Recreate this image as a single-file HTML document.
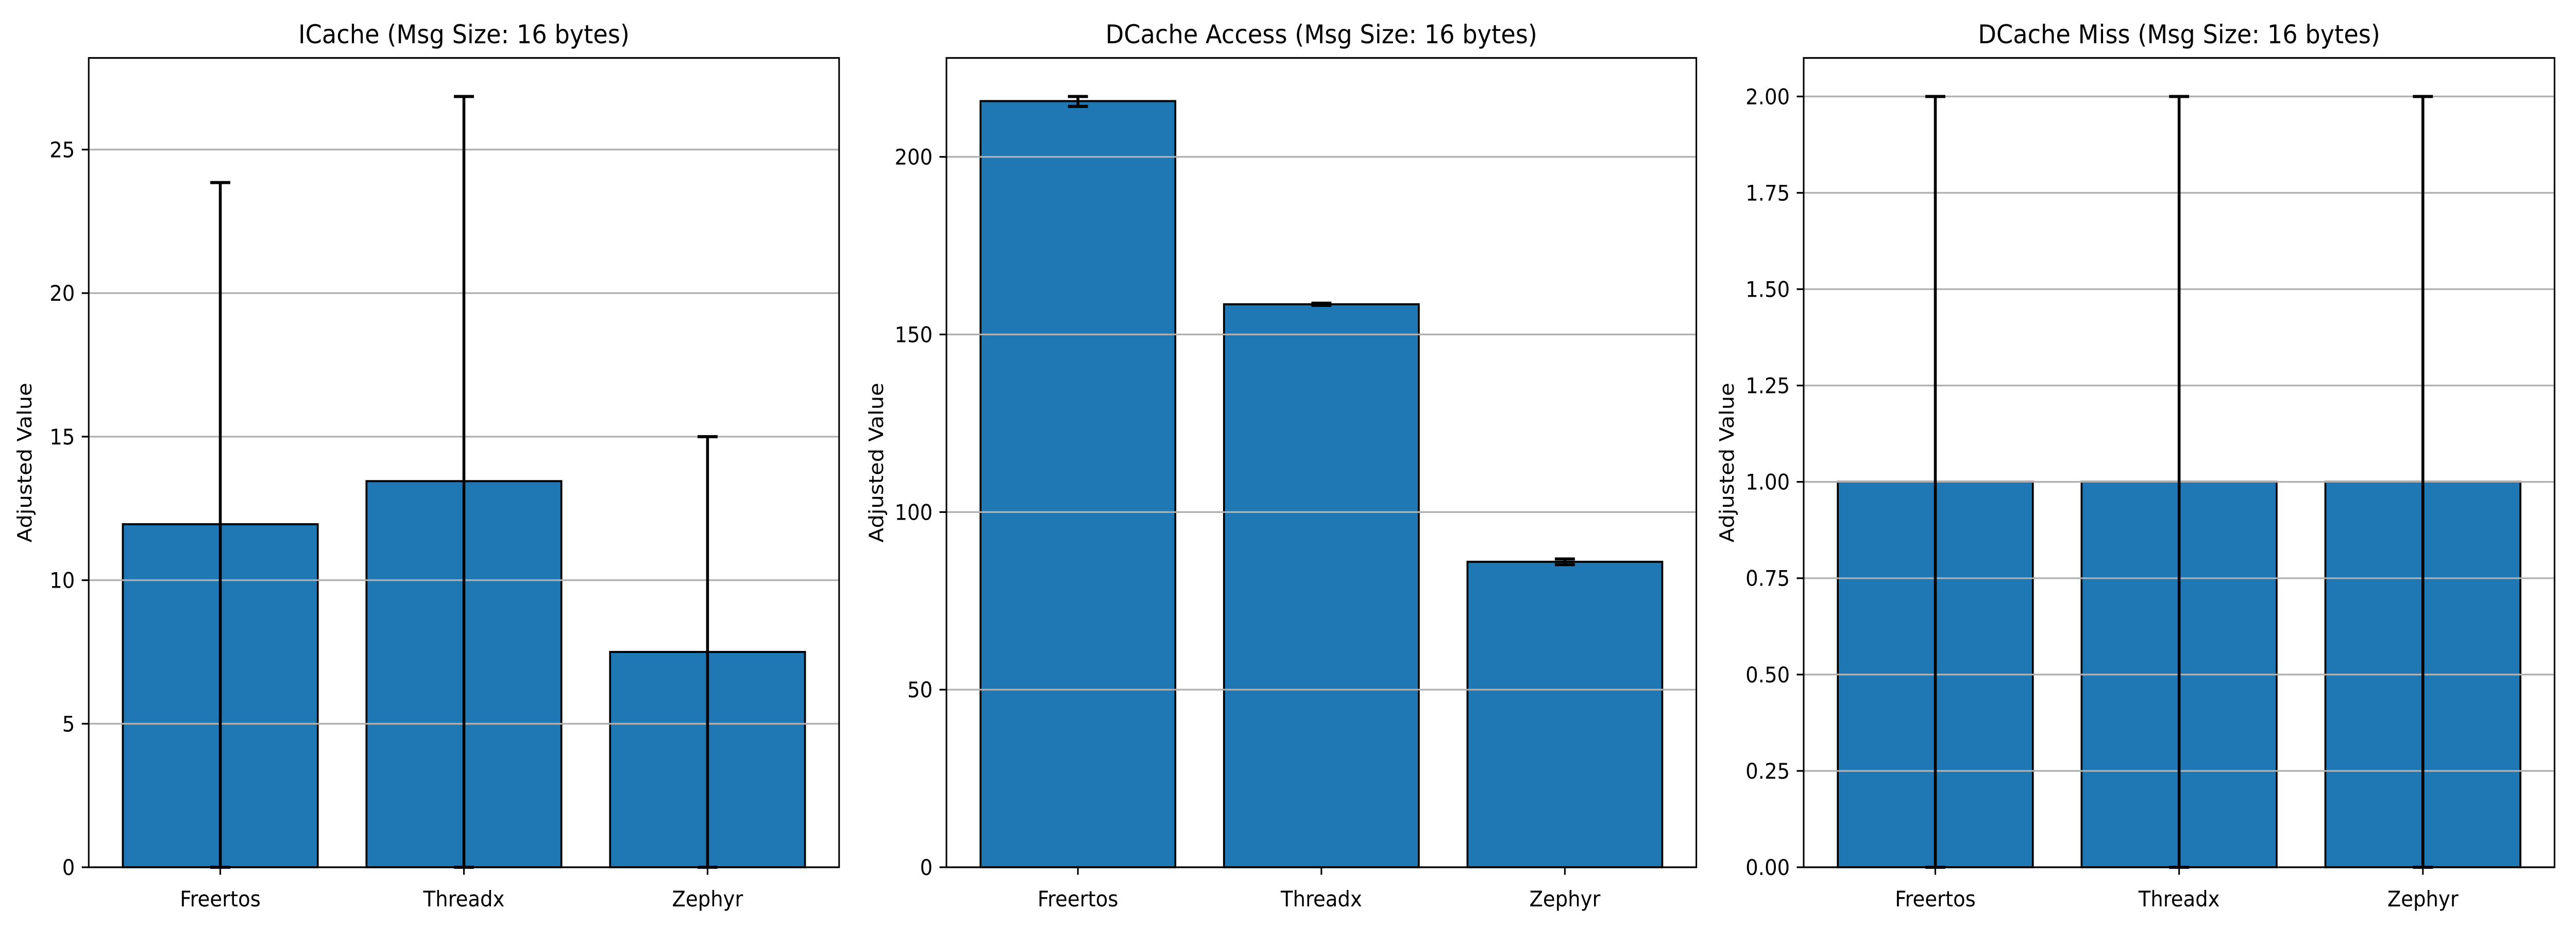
<!DOCTYPE html>
<html><head><meta charset="utf-8"><style>
html,body{margin:0;padding:0;background:#fff;overflow:hidden;width:100%;height:100%;}
svg{display:block;width:100vw;height:100vh;font-family:"DejaVu Sans","Liberation Sans",sans-serif;}
</style></head><body>
<svg id="chart" viewBox="0 0 5400 1800" preserveAspectRatio="none" xmlns="http://www.w3.org/2000/svg"></svg>
<script>
const categories = ["Freertos", "Threadx", "Zephyr"];
const titles = ["ICache (Msg Size: 16 bytes)", "DCache Access (Msg Size: 16 bytes)", "DCache Miss (Msg Size: 16 bytes)"];
const icacheValues = [11.95, 13.45, 7.5];
const icacheErrTop = [23.85, 26.85, 15.0];
const icacheErrBottom = [0, 0, 0];
const daccessValues = [215.7, 158.5, 86.0];
const daccessErrTop = [217.0, 158.8, 86.8];
const daccessErrBottom = [214.2, 158.2, 85.2];
const dmissValues = [1, 1, 1];
const dmissErrTop = [2, 2, 2];
const dmissErrBottom = [0, 0, 0];
const icacheTicks = [0, 5, 10, 15, 20, 25];
const icacheTickLabels = ["0", "5", "10", "15", "20", "25"];
const daccessTicks = [0, 50, 100, 150, 200];
const daccessTickLabels = ["0", "50", "100", "150", "200"];
const dmissTicks = [0, 0.25, 0.5, 0.75, 1, 1.25, 1.5, 1.75, 2];
const dmissTickLabels = ["0.00", "0.25", "0.50", "0.75", "1.00", "1.25", "1.50", "1.75", "2.00"];

const NS = "http://www.w3.org/2000/svg";
const svg = document.getElementById("chart");
function mk(tag, attrs, parent) {
  const e = document.createElementNS(NS, tag);
  for (const k in attrs) e.setAttribute(k, attrs[k]);
  (parent || svg).appendChild(e);
  return e;
}
const panels = [
  {left:186, right:1759, vals:icacheValues, top:icacheErrTop, bot:icacheErrBottom, ticks:icacheTicks, labels:icacheTickLabels, ylabelX:52, key:"icache"},
  {left:1984, right:3556, vals:daccessValues, top:daccessErrTop, bot:daccessErrBottom, ticks:daccessTicks, labels:daccessTickLabels, ylabelX:1837, key:"dcache-access"},
  {left:3781, right:5355, vals:dmissValues, top:dmissErrTop, bot:dmissErrBottom, ticks:dmissTicks, labels:dmissTickLabels, ylabelX:3620, key:"dcache-miss"}
];
const axTop = 112.5, axBot = 1684;
panels.forEach((p, pi) => {
  const g = mk("g", {});
  
  
  const ymax = Math.max(...p.top, ...p.vals) * 1.05;
  const ys = v => axBot - (v / ymax) * (axBot - axTop);
  const n = categories.length;
  const xmin = -0.4 - 0.05 * (n - 1 + 0.8), xmax = n - 1 + 0.4 + 0.05 * (n - 1 + 0.8);
  const xs = v => p.left + (v - xmin) / (xmax - xmin) * (p.right - p.left);
  p.vals.forEach((v, i) => {
    const x0 = xs(i - 0.4), x1 = xs(i + 0.4);
    const r = mk("rect", {x:x0, y:ys(v), width:x1 - x0, height:axBot - ys(v), fill:"#1f77b4", stroke:"#000", "stroke-width":4}, g);
    
    
  });
  p.ticks.forEach((t, i) => {
    const y = ys(t);
    const l = mk("line", {x1:p.left, x2:p.right, y1:y, y2:y, stroke:"#b0b0b0", "stroke-width":3.3}, g);
    
    
    mk("line", {x1:p.left - 14.6, x2:p.left, y1:y, y2:y, stroke:"#000", "stroke-width":3.3}, g);
    const tx = mk("text", {x:p.left - 29, y:y + 15, "font-size":41.7, "text-anchor":"end", fill:"#000"}, g);
    tx.textContent = p.labels[i];
    
    
  });
  p.vals.forEach((v, i) => {
    const cx = xs(i);
    const eg = mk("g", {stroke:"#000", "stroke-width":6}, g);
    
    
    mk("line", {x1:cx, x2:cx, y1:ys(p.bot[i]), y2:ys(p.top[i])}, eg);
    mk("line", {x1:cx - 21, x2:cx + 21, y1:ys(p.top[i]), y2:ys(p.top[i])}, eg);
    mk("line", {x1:cx - 21, x2:cx + 21, y1:ys(p.bot[i]), y2:ys(p.bot[i])}, eg);
  });
  categories.forEach((c, i) => {
    const cx = xs(i);
    mk("line", {x1:cx, x2:cx, y1:axBot, y2:axBot + 14.6, stroke:"#000", "stroke-width":3.3}, g);
    const tx = mk("text", {x:cx, y:axBot + 76, "font-size":41.7, "text-anchor":"middle", fill:"#000"}, g);
    tx.textContent = c;
    
    
  });
  const fr = mk("rect", {x:p.left, y:axTop, width:p.right - p.left, height:axBot - axTop, fill:"none", stroke:"#000", "stroke-width":3.3}, g);
  
  
  const tt = mk("text", {x:(p.left + p.right) / 2, y:84, "font-size":50, "text-anchor":"middle", fill:"#000"}, g);
  tt.textContent = titles[pi];
  
  
  const yl = mk("text", {x:0, y:0, "font-size":41.7, "text-anchor":"middle", fill:"#000", transform:"translate(" + (p.ylabelX + 14) + "," + ((axTop + axBot) / 2) + ") rotate(-90)"}, g);
  yl.textContent = "Adjusted Value";
  
  
});
</script>
</body></html>
